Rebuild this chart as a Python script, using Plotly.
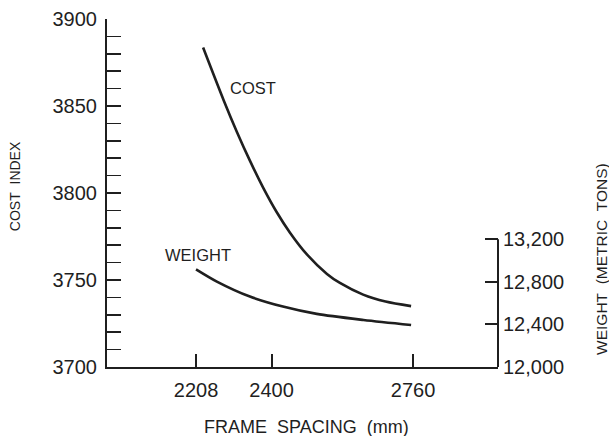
import plotly.graph_objects as go

# ---- data ----
cost_spacing = [2226, 2279, 2312, 2345, 2379, 2413, 2447, 2490, 2541, 2574, 2633, 2690, 2755]
cost_index = [3883.6, 3852.9, 3835.1, 3818.6, 3803.0, 3789.1, 3777.2, 3764.7, 3753.5,
              3748.3, 3741.6, 3737.6, 3735.0]

weight_spacing = [2208, 2261, 2345, 2429, 2515, 2634, 2755]
weight_tons = [12918, 12803, 12662, 12568, 12499, 12442, 12395]

x_ticks = [2208, 2400, 2760]
cost_ticks = [3700, 3750, 3800, 3850, 3900]
weight_ticks = [12000, 12400, 12800, 13200]

INK = "#1f1f1f"
FONT = "Liberation Sans, Arial, sans-serif"
SP2 = "&nbsp;&nbsp;"

fig = go.Figure()
fig.add_trace(go.Scatter(x=cost_spacing, y=cost_index, mode="lines",
                         line=dict(color=INK, width=2.6, shape="spline", smoothing=0.8),
                         showlegend=False, hoverinfo="skip"))
fig.add_trace(go.Scatter(x=weight_spacing, y=weight_tons, mode="lines", yaxis="y2",
                         line=dict(color=INK, width=2.6, shape="spline", smoothing=0.8),
                         showlegend=False, hoverinfo="skip"))

fig.update_layout(
    width=609, height=436,
    margin=dict(l=107, r=111, t=19, b=69, pad=0),
    paper_bgcolor="white", plot_bgcolor="white",
    font=dict(family=FONT, color=INK, size=20),
    hovermode=False,
    xaxis=dict(range=[1981.6, 2976], tickvals=x_ticks, ticks="inside", ticklen=13,
               tickwidth=2, tickcolor=INK, showline=True, linewidth=2, linecolor=INK,
               showgrid=False, zeroline=False, tickfont=dict(size=20, color=INK),
               ticklabelstandoff=4, automargin=False),
    yaxis=dict(range=[3700, 3900], tickvals=cost_ticks, ticks="inside", ticklen=14,
               tickwidth=2, tickcolor=INK, showline=True, linewidth=2, linecolor=INK,
               showgrid=False, zeroline=False, tickfont=dict(size=20, color=INK),
               ticklabelstandoff=4, automargin=False,
               minor=dict(dtick=10, tick0=3700, ticks="inside", ticklen=14,
                          tickwidth=1.5, tickcolor=INK, showgrid=False)),
    yaxis2=dict(range=[12000, 15270], overlaying="y", side="right", tickvals=weight_ticks,
                tickformat=",d", ticks="inside", ticklen=13, tickwidth=2, tickcolor=INK,
                showline=False, showgrid=False, zeroline=False,
                tickfont=dict(size=20, color=INK), ticklabelstandoff=4, automargin=False),
)

# partial right axis line (12,000 – 13,200 only)
fig.add_shape(type="line", xref="paper", yref="y2", x0=1, x1=1,
              y0=weight_ticks[0], y1=weight_ticks[-1], line=dict(color=INK, width=2))

def label(text, size, **kw):
    fig.add_annotation(text=text, showarrow=False, xanchor="center", yanchor="middle",
                       font=dict(family=FONT, color=INK, size=size), **kw)

label("COST", 16.5, x=2352, y=3860.4)
label("WEIGHT", 16.5, x=2212, y=3764.5)
label("FRAME" + SP2 + "SPACING" + SP2 + "(mm)", 18, xref="paper", yref="paper", x=0.51, y=-0.173)
label("COST" + SP2 + "INDEX", 14, xref="paper", yref="paper", x=-0.235, y=0.52, textangle=-90)
label("WEIGHT" + SP2 + "(METRIC" + SP2 + "TONS)", 15.5, xref="paper", yref="paper",
      x=1.263, y=0.31, textangle=-90)

fig.write_html("out.html", config={"displayModeBar": False, "staticPlot": True},
               post_script="document.body.style.margin='0';")
